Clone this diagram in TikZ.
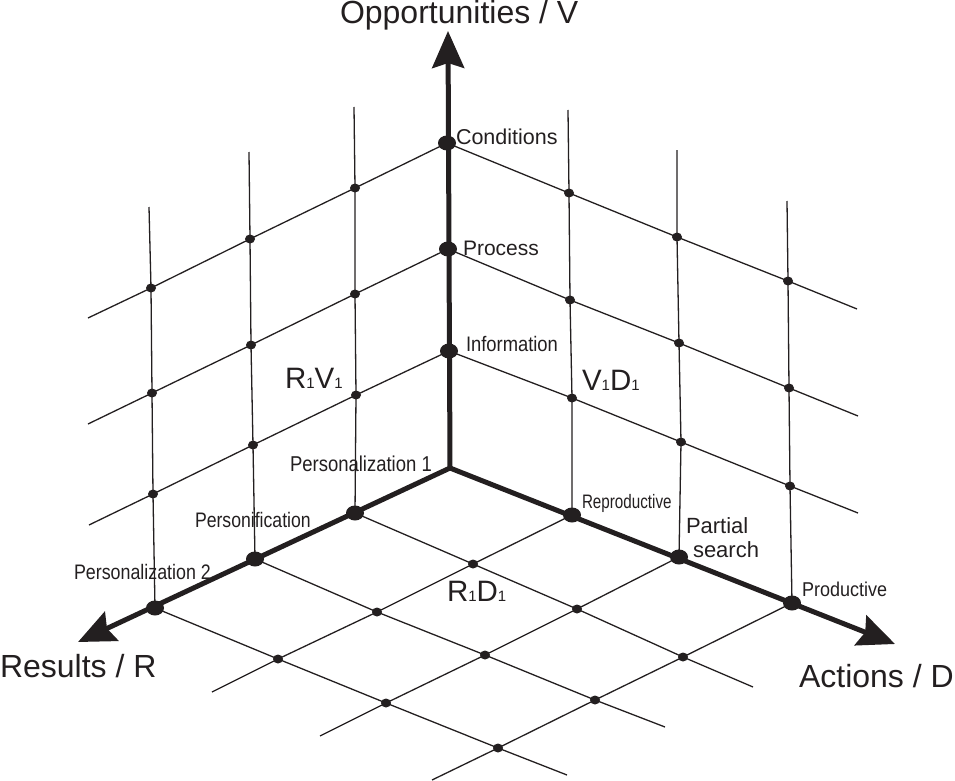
\documentclass[tikz,border=0pt]{standalone}
\usepackage{fontspec}
\setmainfont{Liberation Sans}
\usepackage{graphicx}
\usetikzlibrary{arrows.meta}
\definecolor{ink}{RGB}{35,31,32}
\newcommand{\nlbl}[3]{\scalebox{#2}[1]{\fontsize{#1}{#1}\selectfont #3}}
\newcommand{\bigpair}[2]{\fontsize{29.5}{29.5}\selectfont #1{\fontsize{15}{15}\selectfont 1}#2{\fontsize{15}{15}\selectfont 1}}
\begin{document}
\begin{tikzpicture}[x=1pt,y=-1pt,
  gridline/.style={line width=1.3pt, draw=ink},
  axisline/.style={line width=5pt, draw=ink, line cap=round,
    -{Stealth[length=37pt,width=32pt,inset=5pt]}},
  lbl/.style={inner sep=0pt, outer sep=0pt, anchor=base west, text=ink}]
\useasboundingbox (0,0) rectangle (955,781);
% axes
\coordinate (O) at (450,468);
\coordinate (V1) at (449,351);
\coordinate (V2) at (448,249);
\coordinate (V3) at (447,143);
\coordinate (Vtip) at (448,31);
\coordinate (R1) at (355,513);
\coordinate (R2) at (255,559);
\coordinate (R3) at (155,608);
\coordinate (Rtip) at (78,642);
\coordinate (D1) at (572,515);
\coordinate (D2) at (679,557);
\coordinate (D3) at (792,603);
\coordinate (Dtip) at (895,644);
% left wall
\coordinate (R1V1) at (356,395);
\coordinate (R1V2) at (355,294);
\coordinate (R1V3) at (355,188);
\coordinate (R1top) at (354,107);
\coordinate (R2V1) at (253,445);
\coordinate (R2V2) at (251,345);
\coordinate (R2V3) at (250,239);
\coordinate (R2top) at (249,152);
\coordinate (R3V1) at (153,494);
\coordinate (R3V2) at (152,393);
\coordinate (R3V3) at (151,288);
\coordinate (R3top) at (149,207);
\coordinate (L1) at (89,525);
\coordinate (L2) at (88,424);
\coordinate (L3) at (88,318);
% right wall
\coordinate (D1V1) at (572,398);
\coordinate (D1V2) at (570,300);
\coordinate (D1V3) at (569,193);
\coordinate (D1top) at (568,110);
\coordinate (D2V1) at (681,442);
\coordinate (D2V2) at (679,343);
\coordinate (D2V3) at (677,237);
\coordinate (D2top) at (677,150);
\coordinate (D3V1) at (790,486);
\coordinate (D3V2) at (789,388);
\coordinate (D3V3) at (788,281);
\coordinate (D3top) at (787,201);
\coordinate (E1) at (858,513);
\coordinate (E2) at (858,416);
\coordinate (E3) at (857,309);
% floor
\coordinate (R1D1) at (473,564);
\coordinate (R1D2) at (577,609);
\coordinate (R1D3) at (683,657);
\coordinate (R1e) at (753,687);
\coordinate (R2D1) at (377,612);
\coordinate (R2D2) at (485,655);
\coordinate (R2D3) at (595,700);
\coordinate (R2e) at (665,727);
\coordinate (R3D1) at (278,659);
\coordinate (R3D2) at (386,703);
\coordinate (R3D3) at (498,748);
\coordinate (R3e) at (567,775);
\coordinate (D1e) at (212,692);
\coordinate (D2e) at (320,736);
\coordinate (D3e) at (432,780);
% grid lines
\foreach \a in {R1,R2,R3} \draw[gridline] (\a) -- (\a V1) -- (\a V2) -- (\a V3) -- (\a top);
\foreach \a in {D1,D2,D3} \draw[gridline] (\a) -- (\a V1) -- (\a V2) -- (\a V3) -- (\a top);
\draw[gridline] (V1) -- (R1V1) -- (R2V1) -- (R3V1) -- (L1);
\draw[gridline] (V2) -- (R1V2) -- (R2V2) -- (R3V2) -- (L2);
\draw[gridline] (V3) -- (R1V3) -- (R2V3) -- (R3V3) -- (L3);
\draw[gridline] (V1) -- (D1V1) -- (D2V1) -- (D3V1) -- (E1);
\draw[gridline] (V2) -- (D1V2) -- (D2V2) -- (D3V2) -- (E2);
\draw[gridline] (V3) -- (D1V3) -- (D2V3) -- (D3V3) -- (E3);
\draw[gridline] (R1) -- (R1D1) -- (R1D2) -- (R1D3) -- (R1e);
\draw[gridline] (R2) -- (R2D1) -- (R2D2) -- (R2D3) -- (R2e);
\draw[gridline] (R3) -- (R3D1) -- (R3D2) -- (R3D3) -- (R3e);
\draw[gridline] (D1) -- (R1D1) -- (R2D1) -- (R3D1) -- (D1e);
\draw[gridline] (D2) -- (R1D2) -- (R2D2) -- (R3D2) -- (D2e);
\draw[gridline] (D3) -- (R1D3) -- (R2D3) -- (R3D3) -- (D3e);
% axes
\draw[axisline] (O) -- (Vtip);
\draw[axisline] (O) -- (Rtip);
\draw[axisline] (O) -- (Dtip);
% dots
\foreach \p in {V1,V2,V3,R1,R2,R3,D1,D2,D3}
  \fill[ink] (\p) ellipse[x radius=9pt, y radius=7.5pt];
\foreach \p in {R1V1,R1V2,R1V3,R2V1,R2V2,R2V3,R3V1,R3V2,R3V3,
                D1V1,D1V2,D1V3,D2V1,D2V2,D2V3,D3V1,D3V2,D3V3,
                R1D1,R1D2,R1D3,R2D1,R2D2,R2D3,R3D1,R3D2,R3D3}
  \fill[ink] (\p) ellipse[x radius=5pt, y radius=4.5pt];
% labels
\node[lbl] (tV) at (340,24) {\fontsize{32}{32}\selectfont Opportunities / V};
\node[lbl] (tR) at (0,677) {\fontsize{32}{32}\selectfont Results / R};
\node[lbl] (tD) at (799,687) {\fontsize{32}{32}\selectfont Actions / D};
\node[lbl] (tCond) at (456,144) {\fontsize{21.5}{21.5}\selectfont Conditions};
\node[lbl] (tProc) at (463,255.5) {\fontsize{21}{21}\selectfont Process};
\node[lbl] (tInfo) at (466,351) {\nlbl{21}{0.875}{Information}};
\node[lbl] (tPers1) at (290,471.5) {\nlbl{21.5}{0.86}{Personalization 1}};
\node[lbl] (tPersf) at (195,527.5) {\nlbl{21}{0.84}{Personification}};
\node[lbl] (tPers2) at (74,579) {\nlbl{21}{0.85}{Personalization 2}};
\node[lbl] (tRepr) at (582,508) {\nlbl{19.5}{0.78}{Reproductive}};
\node[lbl] (tPart) at (686,533) {\fontsize{22}{22}\selectfont Partial};
\node[lbl] (tSrch) at (693,557) {\fontsize{22}{22}\selectfont search};
\node[lbl] (tProd) at (802,596) {\nlbl{20}{0.9}{Productive}};
\node[lbl] (tRV) at (285,388.3) {\bigpair{R}{V}};
\node[lbl] (tVD) at (582,390) {\bigpair{V}{D}};
\node[lbl] (tRD) at (447,601) {\bigpair{R}{D}};
\end{tikzpicture}
\end{document}
